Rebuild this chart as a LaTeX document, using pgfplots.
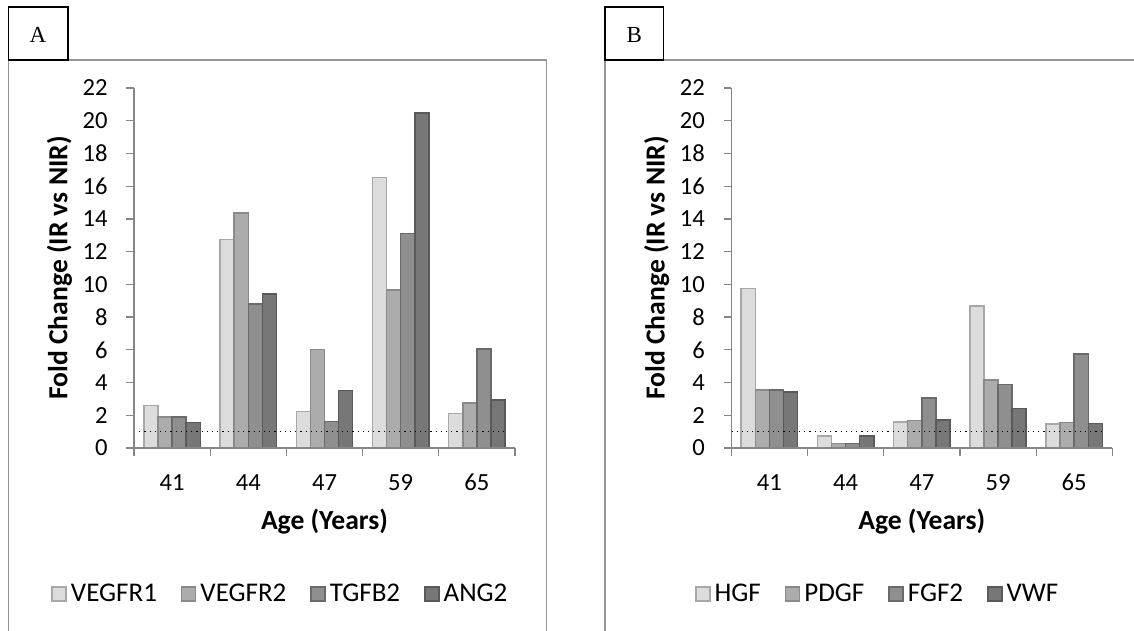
\documentclass[border=0pt]{standalone}
\usepackage{fontspec}
\setmainfont{Carlito}
\newfontfamily\timesf{Liberation Serif}
\usepackage{pgfplots}
\usepackage{pgfplotstable}
\pgfplotsset{compat=1.18}

\definecolor{axisgray}{RGB}{134,134,134}
\definecolor{framegray}{RGB}{150,150,150}
\definecolor{fA}{RGB}{220,220,220}\definecolor{dA}{RGB}{168,168,168}
\definecolor{fB}{RGB}{172,172,172}\definecolor{dB}{RGB}{138,138,138}
\definecolor{fC}{RGB}{143,143,143}\definecolor{dC}{RGB}{106,106,106}
\definecolor{fD}{RGB}{119,119,119}\definecolor{dD}{RGB}{90,90,90}

% age index: 0=41, 1=44, 2=47, 3=59, 4=65
\pgfplotstableread{
x  s1    s2    s3    s4
0  2.59  1.90  1.90  1.57
1  12.75 14.35 8.80  9.42
2  2.22  6.02  1.62  3.50
3  16.52 9.67  13.12 20.47
4  2.10  2.76  6.04  2.93
}\dataA

\pgfplotstableread{
x  s1    s2    s3    s4
0  9.74  3.55  3.55  3.43
1  0.74  0.27  0.27  0.74
2  1.58  1.68  3.06  1.70
3  8.68  4.17  3.87  2.42
4  1.48  1.55  5.75  1.50
}\dataB

\pgfplotsset{
  sq/.style={legend image code/.code={\draw[##1] (0pt,-3.5pt) rectangle (7pt,3.5pt);}},
  panel/.style={
    width=190.5pt, height=180pt, scale only axis,
    anchor=south west, axis on top,
    ybar=0pt, bar width=7.05pt,
    every axis plot/.append style={line width=0.75pt},
    xmin=-0.5, xmax=4.5, ymin=0, ymax=22,
    ytick={0,2,...,22},
    xtick={-0.5,0.5,...,4.5}, xticklabels={},
    extra x ticks={0,1,2,3,4},
    extra x tick labels={41,44,47,59,65},
    extra x tick style={major tick length=0pt},
    axis lines*=left,
    axis line style={-, draw=axisgray, line width=0.7pt},
    tick pos=left, tick align=outside, major tick length=3.9pt,
    tick style={draw=axisgray, line width=0.6pt},
    /pgf/number format/assume math mode=true,
    tick label style={font=\fontsize{12.3}{14}\selectfont},
    xticklabel style={yshift=-9.6pt},
    yticklabel style={xshift=-5.8pt},
    xlabel style={at={(axis description cs:0.5,-0.205)}, anchor=center,
      font=\fontsize{13.8}{16}\selectfont\bfseries},
    ylabel style={at={(axis description cs:-0.1955,0.5)}, anchor=center,
      font=\fontsize{13.8}{16}\selectfont\bfseries},
    xlabel={Age (Years)},
    ylabel={Fold Change (IR vs NIR)},
    legend columns=4,
    legend style={at={(axis description cs:0.387,-0.4056)}, anchor=center,
      draw=none, fill=none, font=\fontsize{13.5}{15}\selectfont,
      /tikz/every even column/.append style={column sep=10pt}},
  }
}

\begin{document}
\begin{tikzpicture}
\useasboundingbox (0,0) rectangle (567pt,-315.5pt);
\clip (0,0) rectangle (567pt,-315.5pt);

% panel frames and letters
\draw[framegray, line width=0.6pt] (4.15pt,-330pt) -- (4.15pt,-30pt) -- (273.25pt,-30pt) -- (273.25pt,-330pt);
\draw[black, line width=0.8pt, fill=white] (4.15pt,-3.65pt) rectangle (33.85pt,-30pt);
\node[font=\timesf\fontsize{11.5}{13}\selectfont] at (19pt,-17.6pt) {A};

\draw[framegray, line width=0.6pt] (302.5pt,-330pt) -- (302.5pt,-30pt) -- (600pt,-30pt);
\draw[black, line width=0.8pt, fill=white] (302.5pt,-3.65pt) rectangle (331.65pt,-30pt);
\node[font=\timesf\fontsize{11.5}{13}\selectfont] at (317.1pt,-17.6pt) {B};

\begin{axis}[panel, at={(67pt,-224pt)}]
\addplot[fill=fA, draw=dA, sq] table[x=x, y=s1] {\dataA};
\addplot[fill=fB, draw=dB, sq] table[x=x, y=s2] {\dataA};
\addplot[fill=fC, draw=dC, sq] table[x=x, y=s3] {\dataA};
\addplot[fill=fD, draw=dD, sq] table[x=x, y=s4] {\dataA};
\legend{VEGFR1, VEGFR2, TGFB2, ANG2}
\draw[black, dotted, line width=0.6pt] (axis cs:-0.5,1) -- (axis cs:4.4,1);
\end{axis}

\begin{axis}[panel, at={(365.65pt,-224pt)}]
\addplot[fill=fA, draw=dA, sq] table[x=x, y=s1] {\dataB};
\addplot[fill=fB, draw=dB, sq] table[x=x, y=s2] {\dataB};
\addplot[fill=fC, draw=dC, sq] table[x=x, y=s3] {\dataB};
\addplot[fill=fD, draw=dD, sq] table[x=x, y=s4] {\dataB};
\legend{HGF, PDGF, FGF2, VWF}
\draw[black, dotted, line width=0.6pt] (axis cs:-0.5,1) -- (axis cs:4.4,1);
\end{axis}
\end{tikzpicture}
\end{document}
